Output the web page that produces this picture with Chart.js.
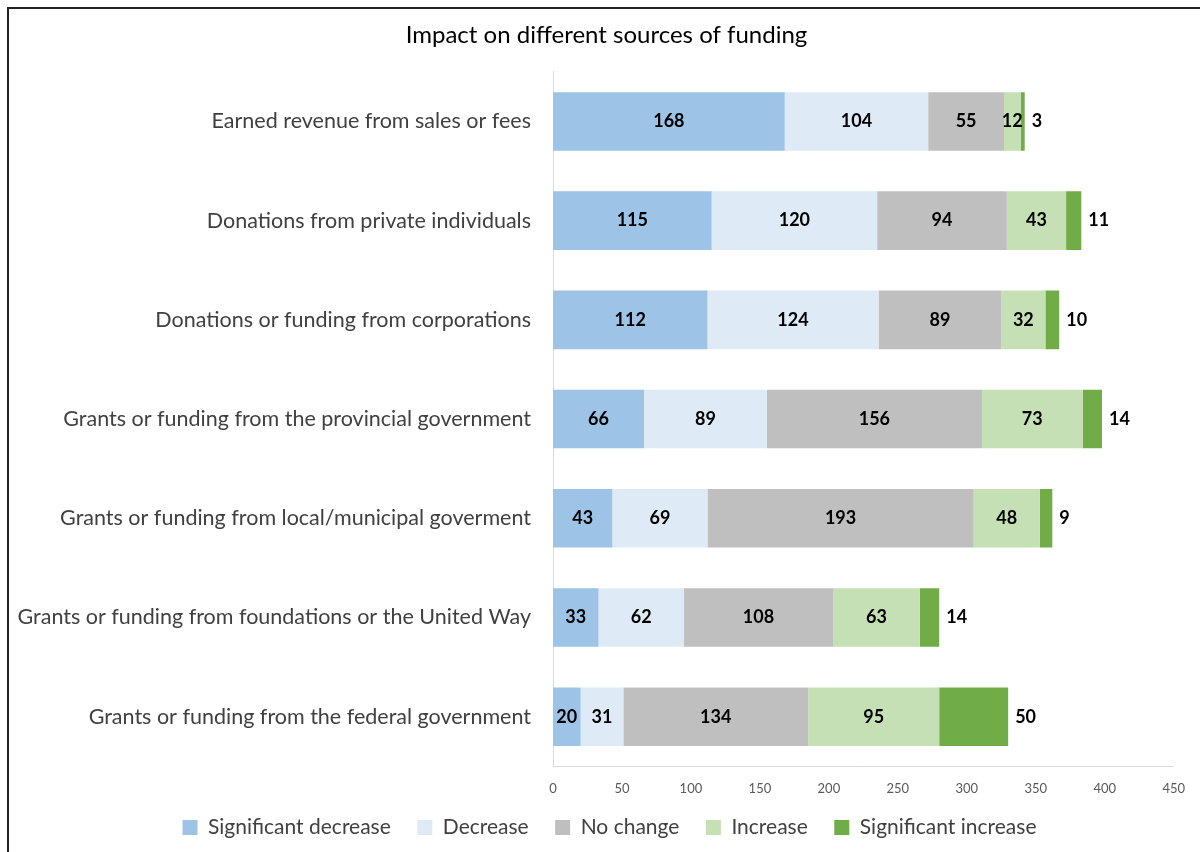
<!DOCTYPE html>
<html>
<head>
<meta charset="utf-8">
<script src="https://cdn.jsdelivr.net/npm/chart.js@4"></script>
<style>
  html, body { margin: 0; padding: 0; background: #fff; }
  #wrap { position: relative; width: 1200px; height: 852px; }
  #frame { position: absolute; left: 7px; top: 7px; right: 0; bottom: 0;
           border-top: 2px solid #222; border-left: 2px solid #222; pointer-events: none; }
  canvas { position: absolute; left: 0; top: 0; }
</style>
</head>
<body>
<div id="wrap">
  <canvas id="chart" width="1200" height="852"></canvas>
  <div id="frame"></div>
</div>
<script>
const categories = [
  'Earned revenue from sales or fees',
  'Donations from private individuals',
  'Donations or funding from corporations',
  'Grants or funding from the provincial government',
  'Grants or funding from local/municipal goverment',
  'Grants or funding from foundations or the United Way',
  'Grants or funding from the federal government'
];
const sigDecrease  = [168, 115, 112, 66, 43, 33, 20];
const decrease     = [104, 120, 124, 89, 69, 62, 31];
const noChange     = [55, 94, 89, 156, 193, 108, 134];
const increase     = [12, 43, 32, 73, 48, 63, 95];
const sigIncrease  = [3, 11, 10, 14, 9, 14, 50];
const xTicks = [0, 50, 100, 150, 200, 250, 300, 350, 400, 450];

const FONT = 'Lato, "Open Sans", sans-serif';

// value labels: centred in each segment, last series placed just past the bar end
const barLabels = {
  id: 'barLabels',
  afterDatasetsDraw(chart) {
    const ctx = chart.ctx;
    ctx.save();
    ctx.font = 'bold 18px ' + FONT;
    ctx.fillStyle = '#000';
    ctx.textBaseline = 'middle';
    const last = chart.data.datasets.length - 1;
    chart.data.datasets.forEach((ds, i) => {
      chart.getDatasetMeta(i).data.forEach((bar, j) => {
        const v = ds.data[j];
        if (i === last) {
          ctx.textAlign = 'left';
          ctx.fillText(v, bar.x + 7, bar.y);
        } else {
          ctx.textAlign = 'center';
          ctx.fillText(v, (bar.base + bar.x) / 2, bar.y);
        }
      });
    });
    ctx.restore();
  }
};

// nudge title and legend a little right of the plain centre
const nudgeBoxes = {
  id: 'nudgeBoxes',
  afterLayout(chart) {
    const t = chart.titleBlock, l = chart.legend;
    if (t) { t.left += 14; t.right += 14; }
    if (l) { l.left += 17; l.right += 17; }
  }
};

const mk = (label, data, color) => ({
  label, data, backgroundColor: color, borderWidth: 0,
  barPercentage: 0.59, categoryPercentage: 1
});

new Chart(document.getElementById('chart'), {
  type: 'bar',
  data: {
    labels: categories,
    datasets: [
      mk('Significant decrease', sigDecrease, '#9DC3E6'),
      mk('Decrease', decrease, '#DEEBF7'),
      mk('No change', noChange, '#BFBFBF'),
      mk('Increase', increase, '#C5E0B4'),
      mk('Significant increase', sigIncrease, '#70AD47')
    ]
  },
  options: {
    indexAxis: 'y',
    responsive: false,
    animation: false,
    layout: { padding: { left: 8, right: 23, top: 0, bottom: 4 } },
    plugins: {
      title: {
        display: true,
        text: 'Impact on different sources of funding',
        color: '#000',
        font: { family: FONT, size: 24, weight: 'normal' },
        padding: { top: 21, bottom: 22 }
      },
      legend: {
        position: 'bottom',
        labels: {
          boxWidth: 15, boxHeight: 15, padding: 5,
          color: '#404040',
          font: { family: FONT, size: 21 },
          // extra gap after every entry but the last
          generateLabels: chart => {
            const items = Chart.defaults.plugins.legend.labels.generateLabels(chart);
            items.forEach((it, k) => { if (k < items.length - 1) it.text += '    '; });
            return items;
          }
        }
      },
      tooltip: { enabled: false }
    },
    scales: {
      x: {
        stacked: true,
        min: 0, max: 450,
        afterBuildTicks: s => { s.ticks = xTicks.map(v => ({ value: v })); },
        grid: { display: false, drawTicks: false },
        border: { color: '#D9D9D9', width: 1 },
        ticks: { color: '#595959', padding: 15, font: { family: FONT, size: 13 } }
      },
      y: {
        stacked: true,
        afterFit: s => { s.width = 545; },
        grid: { display: false, drawTicks: false },
        border: { color: '#D9D9D9', width: 1 },
        ticks: { color: '#404040', padding: 22, font: { family: FONT, size: 21.5 } }
      }
    }
  },
  plugins: [barLabels, nudgeBoxes]
});
</script>
</body>
</html>
